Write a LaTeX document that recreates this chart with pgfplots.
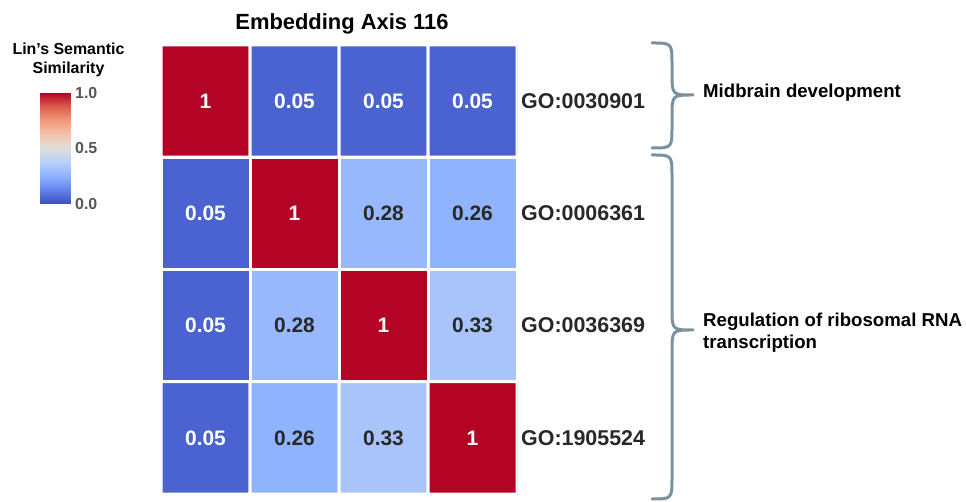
\documentclass[border=0pt]{standalone}
\usepackage{fontspec}
\setmainfont{Liberation Sans}
\usepackage{pgfplots}
\pgfplotsset{compat=1.18}
\definecolor{bracecol}{RGB}{122,146,160}
\definecolor{darktxt}{RGB}{40,40,40}
\definecolor{cbtxt}{RGB}{85,85,85}
\pgfplotsset{colormap={coolwarm}{rgb255=(59,76,192) rgb255=(98,130,234) rgb255=(141,176,254) rgb255=(184,208,249) rgb255=(221,221,221) rgb255=(245,196,173) rgb255=(244,154,123) rgb255=(222,96,77) rgb255=(180,4,38)}}
\begin{document}
\begin{tikzpicture}[x=1bp,y=1bp]
\useasboundingbox (0,0) rectangle (966,502);
\begin{axis}[
  at={(161bp,8bp)}, anchor=south west,
  scale only axis, width=356bp, height=449bp,
  xmin=-0.5, xmax=3.5, ymin=-0.5, ymax=3.5,
  y dir=reverse, enlargelimits=false,
  axis line style={draw=none}, major tick length=0pt,
  xtick=\empty,
  ytick={0,1,2,3}, yticklabel pos=right,
  yticklabels={GO:0030901,GO:0006361,GO:0036369,GO:1905524},
  yticklabel style={font=\fontsize{21.5}{25}\selectfont\bfseries, text=darktxt, inner sep=0pt, anchor=west, xshift=4bp},
  colormap name=coolwarm, point meta min=0, point meta max=1,
  title={Embedding Axis 116},
  every axis title shift=0pt,
  title style={font=\fontsize{22}{26}\selectfont\bfseries, at={(0.5,1)}, anchor=south, yshift=7bp, xshift=3bp},
]
\addplot[matrix plot*, mesh/cols=4, point meta=explicit, draw=white, line width=3bp] table[meta=c]{
x y c
0 0 1
1 0 0.05
2 0 0.05
3 0 0.05
0 1 0.05
1 1 1
2 1 0.28
3 1 0.26
0 2 0.05
1 2 0.28
2 2 1
3 2 0.33
0 3 0.05
1 3 0.26
2 3 0.33
3 3 1
};
\addplot[draw=none, mark=none, nodes near coords, point meta=explicit symbolic,
  nodes near coords style={text=white, font=\fontsize{21}{25}\selectfont\bfseries, anchor=center}] table[meta=l]{
x y l
0 0 1
1 0 0.05
2 0 0.05
3 0 0.05
0 1 0.05
1 1 1
0 2 0.05
2 2 1
0 3 0.05
3 3 1
};
\addplot[draw=none, mark=none, nodes near coords, point meta=explicit symbolic,
  nodes near coords style={text=darktxt, font=\fontsize{21}{25}\selectfont\bfseries, anchor=center}] table[meta=l]{
x y l
2 1 0.28
3 1 0.26
1 2 0.28
3 2 0.33
1 3 0.26
2 3 0.33
};
\end{axis}
% colour bar
\begin{axis}[
  at={(40bp,298bp)}, anchor=south west,
  scale only axis, width=31bp, height=111bp,
  xmin=0, xmax=1, ymin=0, ymax=1, view={0}{90}, enlargelimits=false,
  colormap name=coolwarm, point meta min=0, point meta max=1,
  axis line style={draw=none}, major tick length=0pt,
  xtick=\empty, ytick={0,0.5,1}, yticklabel pos=right,
  yticklabels={\textbf{0.0},\textbf{0.5},\textbf{1.0}},
  yticklabel style={font=\fontsize{16}{19}\selectfont\bfseries, text=cbtxt, inner sep=0pt, anchor=west, xshift=4bp},
  title={Lin’s Semantic\\Similarity},
  every axis title shift=0pt,
  title style={align=center, font=\fontsize{16}{19}\selectfont\bfseries, at={(0.5,1)}, anchor=south, xshift=13bp, yshift=13bp},
]
\addplot3[surf, shader=interp, mesh/rows=2, point meta=\thisrow{z}] table{
x y z
0 0 0
1 0 0
0 1 1
1 1 1
};
\end{axis}
\draw[bracecol, line width=3bp, line cap=round, line join=round]
  (652,459) .. controls (672,459) .. (672,437) -- (672,429) .. controls (672,407) .. (693,407)
  .. controls (672,407) .. (672,385) -- (672,376) .. controls (672,354) .. (652,354);
\draw[bracecol, line width=3bp, line cap=round, line join=round]
  (652,347) .. controls (672,347) .. (672,325) -- (672,194) .. controls (672,172) .. (693,172)
  .. controls (672,172) .. (672,150) -- (672,25) .. controls (672,3) .. (652,3);
\node[anchor=west, inner sep=0pt, font=\fontsize{18.7}{22}\selectfont\bfseries] at (703,409) {Midbrain development};
\node[anchor=west, inner sep=0pt, align=left, font=\fontsize{18.7}{22}\selectfont\bfseries] at (703,169) {Regulation of ribosomal RNA\\transcription};
\end{tikzpicture}
\end{document}
